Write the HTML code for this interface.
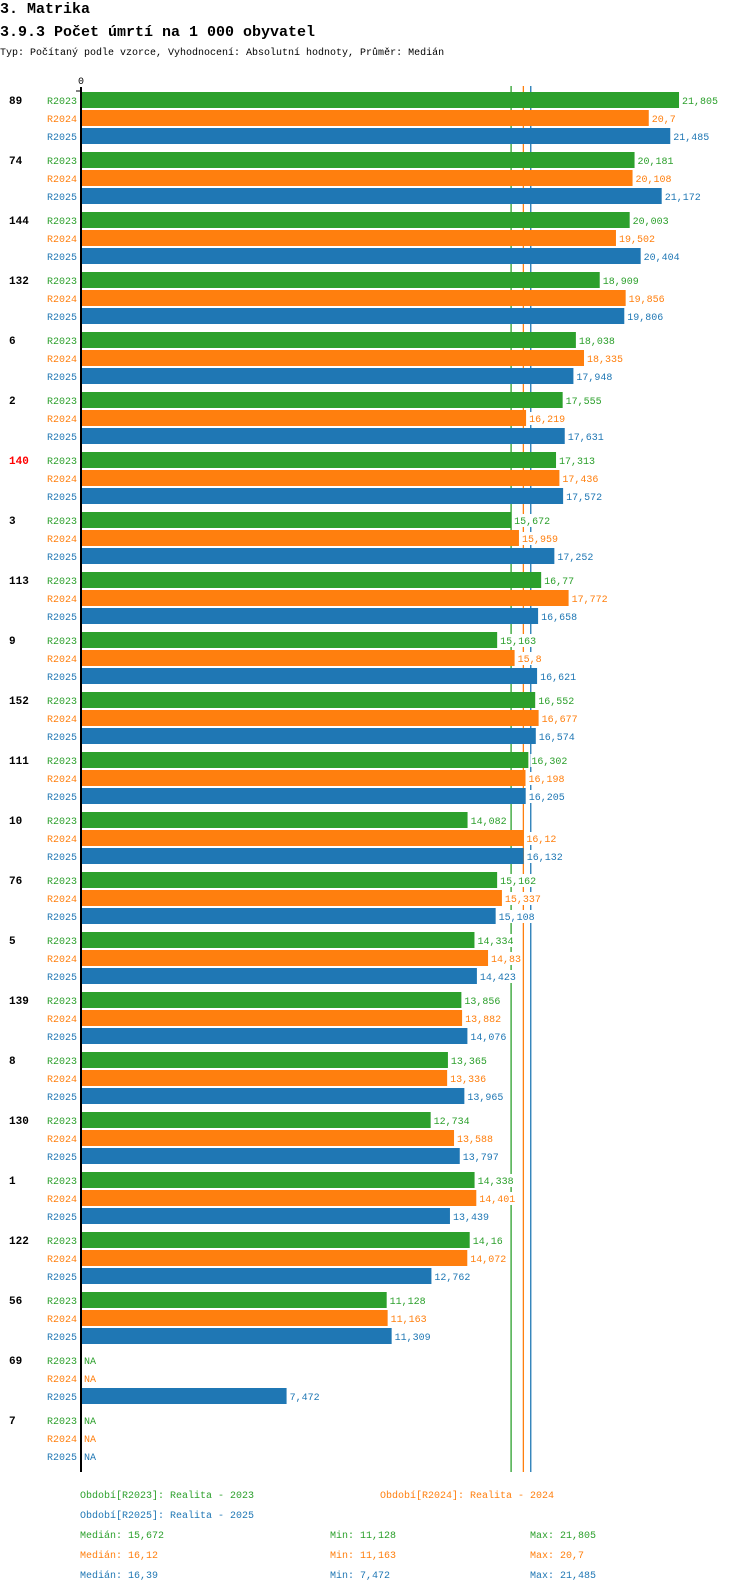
<!DOCTYPE html>
<html><head><meta charset="utf-8"><style>
body{margin:0;background:#fff;}
svg{display:block;font-family:"Liberation Mono",monospace;}
</style></head><body>
<svg id="c" width="750" height="1592" viewBox="0 0 750 1592" xmlns="http://www.w3.org/2000/svg">
<text x="0" y="13" font-size="15" font-weight="bold">3. Matrika</text>
<text x="0" y="36" font-size="15" font-weight="bold">3.9.3 Počet úmrtí na 1 000 obyvatel</text>
<text x="0" y="55" font-size="10">Typ: Počítaný podle vzorce, Vyhodnocení: Absolutní hodnoty, Průměr: Medián</text>
<g id="plot"></g>
</svg>
<script>
const groups=["89","74","144","132","6","2","140","3","113","9","152","111","10","76","5","139","8","130","1","122","56","69","7"];
const series=["R2023","R2024","R2025"];
const v2023=[21.805,20.181,20.003,18.909,18.038,17.555,17.313,15.672,16.77,15.163,16.552,16.302,14.082,15.162,14.334,13.856,13.365,12.734,14.338,14.16,11.128,null,null];
const v2024=[20.7,20.108,19.502,19.856,18.335,16.219,17.436,15.959,17.772,15.8,16.677,16.198,16.12,15.337,14.83,13.882,13.336,13.588,14.401,14.072,11.163,null,null];
const v2025=[21.485,21.172,20.404,19.806,17.948,17.631,17.572,17.252,16.658,16.621,16.574,16.205,16.132,15.108,14.423,14.076,13.965,13.797,13.439,12.762,11.309,7.472,null];
const medians=[15.672,16.12,16.39];
const mins=[11.128,11.163,7.472];
const maxs=[21.805,20.7,21.485];
const highlight="140";

const colors=["#2ca02c","#ff7f0e","#1f77b4"];
const vals=[v2023,v2024,v2025];
const NS="http://www.w3.org/2000/svg";
const plot=document.getElementById('plot');
const X0=82, K=27.38, TOP=92, GP=60, RP=18, BH=16;
const xs=v=>X0+v*K;
const fmt=v=>String(v).replace('.',',');
function el(tag,attrs,txt){const e=document.createElementNS(NS,tag);for(const k in attrs)e.setAttribute(k,attrs[k]);if(txt!=null)e.textContent=txt;plot.appendChild(e);return e;}
medians.forEach((m,i)=>{
  const l=el('line',{x1:xs(m),x2:xs(m),y1:86,y2:1472,stroke:colors[i],'stroke-width':1.3});
  
  
});
groups.forEach((g,gi)=>{
  const gy=TOP+gi*GP;
  const t=el('text',{x:9,y:gy+12,'font-size':11,'font-weight':'bold',fill:g===highlight?'#ff0000':'#000'},g);
  
  
  series.forEach((s,si)=>{
    const y=gy+si*RP;
    const sl=el('text',{x:77,y:y+12,'font-size':10,fill:colors[si],'text-anchor':'end'},s);
    
    
    const v=vals[si][gi];
    if(v==null){
      const na=el('text',{x:84,y:y+12,'font-size':10,fill:colors[si]},'NA');
      
      
    }else{
      const r=el('rect',{x:X0,y:y,width:xs(v)-X0,height:BH,fill:colors[si]});
      
      
      const txt=fmt(v);
      const bg=el('rect',{x:xs(v)+2,y:y+2,width:txt.length*6+2,height:13,fill:'#fff'});
      
      
      const vl=el('text',{x:xs(v)+3,y:y+12,'font-size':10,fill:colors[si]},txt);
      
      
    }
  });
});
const ax=el('line',{x1:81,x2:81,y1:87,y2:1472,stroke:'#000','stroke-width':2});


const tk=el('line',{x1:76,x2:82,y1:91,y2:91,stroke:'#000','stroke-width':1});


const z=el('text',{x:78,y:84,'font-size':10},'0');


const lg=[["Období[R2023]: Realita - 2023",80,1498,0],["Období[R2024]: Realita - 2024",380,1498,1],["Období[R2025]: Realita - 2025",80,1518,2]];
lg.forEach(a=>{
  const t=el('text',{x:a[1],y:a[2],'font-size':10,fill:colors[a[3]]},a[0]);
  
  
});
series.forEach((s,i)=>{
  const y=1538+i*20;
  const a=el('text',{x:80,y:y,'font-size':10,fill:colors[i]},'Medián: '+fmt(medians[i]));
  
  
  const b=el('text',{x:330,y:y,'font-size':10,fill:colors[i]},'Min: '+fmt(mins[i]));
  
  
  const c=el('text',{x:530,y:y,'font-size':10,fill:colors[i]},'Max: '+fmt(maxs[i]));
  
  
});
</script>
</body></html>
